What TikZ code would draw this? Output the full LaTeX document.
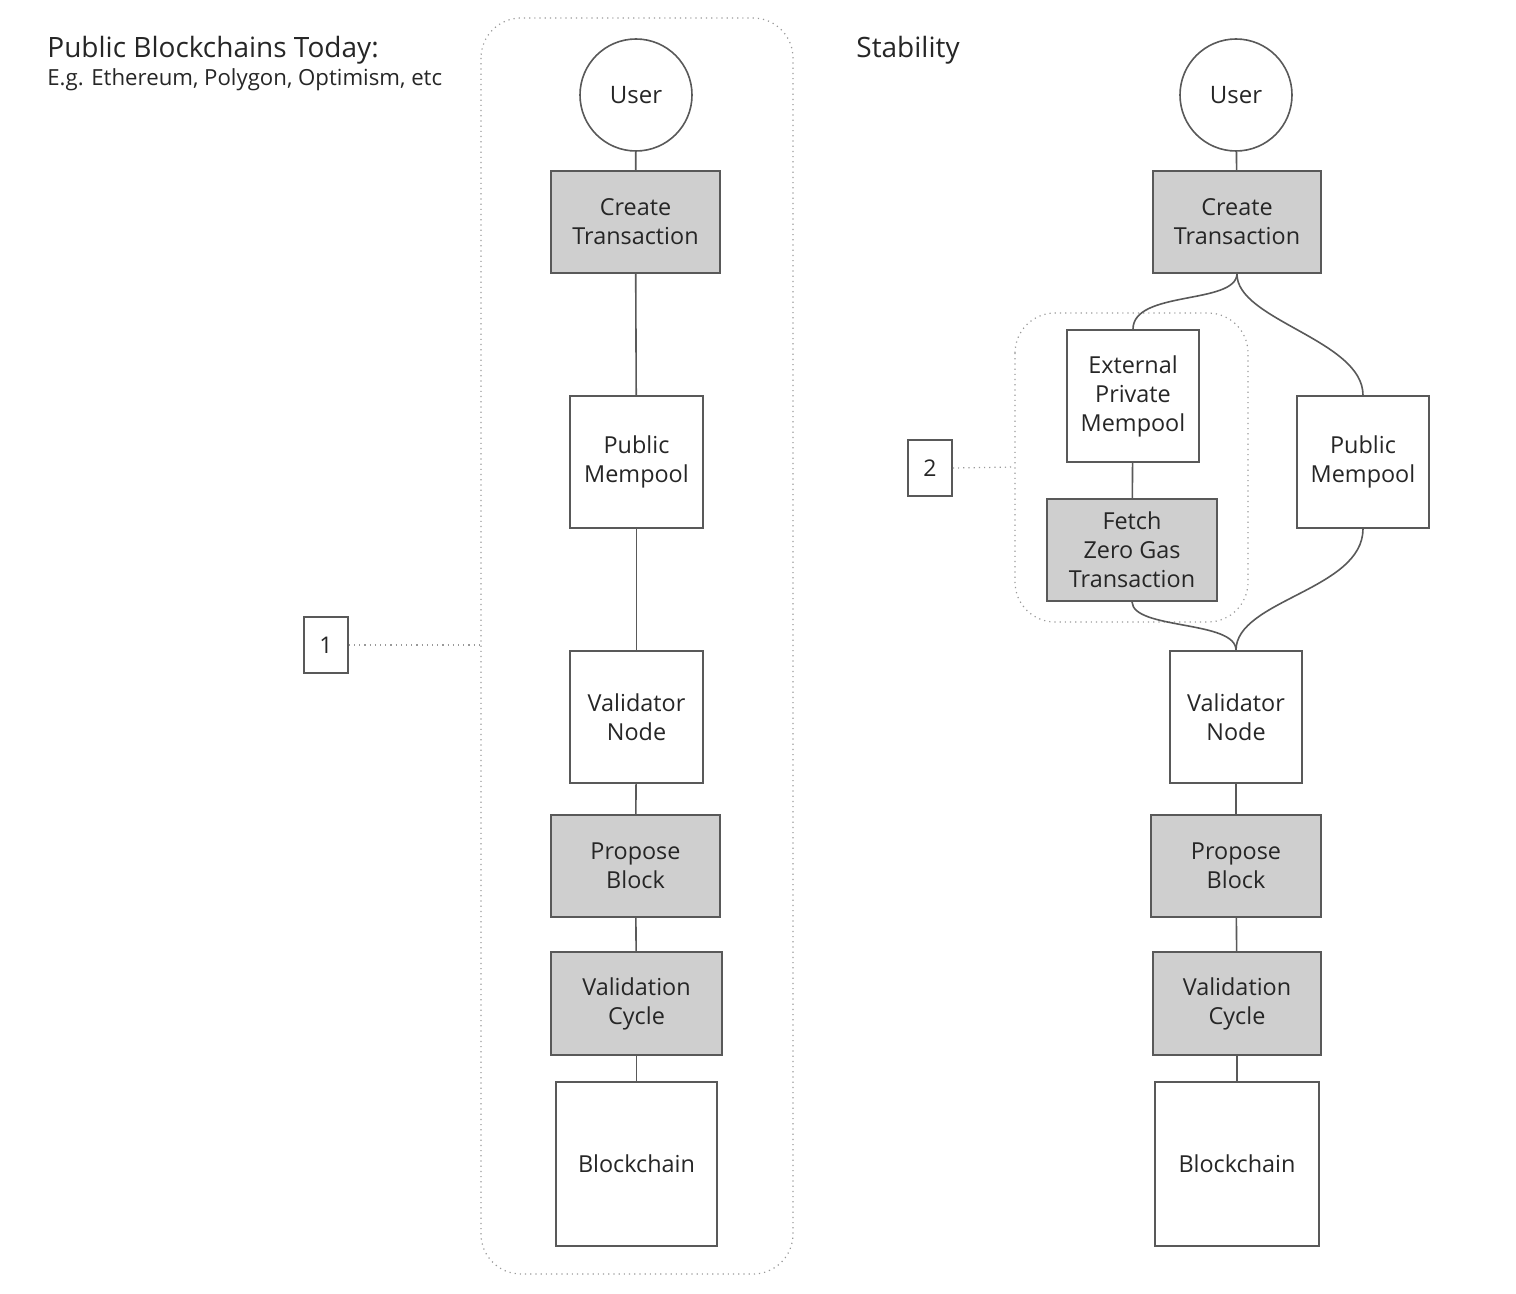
\documentclass[tikz,border=0pt]{standalone}
\usepackage{fontspec}
\setmainfont{Open Sans}
\begin{document}
\begin{tikzpicture}[x=0.5pt,y=-0.5pt,
  line/.style={draw=black!65,line width=0.8pt},
  wbox/.style={line,fill=white,inner sep=0pt,align=center,font=\fontsize{11.7}{14.5}\selectfont,text=black!85},
  gbox/.style={wbox,fill=black!19},
  ucircle/.style={line,circle,fill=white,inner sep=0pt,minimum size=56pt,font=\fontsize{12}{14}\selectfont,text=black!85},
  conn/.style={draw=black!65,line width=0.8pt},
  dotbox/.style={draw=black!40,line width=0.6pt,dotted,rounded corners=20pt},
  dotline/.style={draw=black!40,line width=0.6pt,dotted},
  lbl/.style={draw=black!65,line width=0.8pt,fill=white,inner sep=0pt,minimum width=22pt,minimum height=28pt,font=\fontsize{11.5}{14}\selectfont,text=black!85}
]
\useasboundingbox (0,0) rectangle (1516,1294);
% group outlines
\draw[dotbox] (481,18) rectangle (793,1274);
\draw[dotbox] (1015,313) rectangle (1248,622);
\coordinate (g1) at (481,645);
\coordinate (g2) at (1015,467);
% titles
\node[anchor=base west,inner sep=0pt,font=\fontsize{14}{16}\selectfont,text=black!85] (t1) at (47,58) {Public Blockchains Today:};
\node[anchor=base west,inner sep=0pt,font=\fontsize{11.1}{12}\selectfont,text=black!85] (t2) at (47,86) {E.g. Ethereum, Polygon, Optimism, etc};
\node[anchor=base west,inner sep=0pt,font=\fontsize{14}{16}\selectfont,text=black!85] (t3) at (856,58) {Stability};
% left column
\node[ucircle] (lu) at (636,95) {User};
\node[gbox,minimum width=84.5pt,minimum height=51pt] (lct) at (635.5,222) {Create\\Transaction};
\node[wbox,minimum width=66.5pt,minimum height=66pt] (lpm) at (636.5,462) {Public\\Mempool};
\node[wbox,minimum width=66.5pt,minimum height=66pt] (lvn) at (636.5,717) {Validator\\Node};
\node[gbox,minimum width=84.5pt,minimum height=51pt] (lpb) at (635.5,866) {Propose\\Block};
\node[gbox,minimum width=85.5pt,minimum height=51.5pt] (lvc) at (636.5,1003.5) {Validation\\Cycle};
\node[wbox,minimum width=80.5pt,minimum height=82pt] (lbc) at (636.5,1164) {Blockchain};
\draw[conn] (lu) -- (lct);
\draw[conn] (lct) -- (lpm);
\draw[conn] (lpm) -- (lvn);
\draw[conn] (lvn) -- (lpb);
\draw[conn] (lpb) -- (lvc);
\draw[conn] (lvc) -- (lbc);
% right column
\node[ucircle] (ru) at (1236,95) {User};
\node[gbox,minimum width=84pt,minimum height=51pt] (rct) at (1237,222) {Create\\Transaction};
\node[wbox,minimum width=66pt,minimum height=66pt] (rep) at (1133,396) {External\\Private\\Mempool};
\node[gbox,minimum width=85pt,minimum height=51pt] (rfz) at (1132,550) {Fetch\\Zero Gas\\Transaction};
\node[wbox,minimum width=66pt,minimum height=66pt] (rpm) at (1363,462) {Public\\Mempool};
\node[wbox,minimum width=66pt,minimum height=66pt] (rvn) at (1236,717) {Validator\\Node};
\node[gbox,minimum width=85pt,minimum height=51pt] (rpb) at (1236,866) {Propose\\Block};
\node[gbox,minimum width=84pt,minimum height=51.5pt] (rvc) at (1237,1003.5) {Validation\\Cycle};
\node[wbox,minimum width=82pt,minimum height=82pt] (rbc) at (1237,1164) {Blockchain};
\draw[conn] (ru) -- (rct);
\draw[conn] (rct.south) .. controls (1236,305) and (1133,290) .. (rep.north);
\draw[conn] (rct.south) .. controls (1236,320) and (1363,340) .. (rpm.north);
\draw[conn] (rep) -- (rfz);
\draw[conn] (rfz.south) .. controls (1133,630) and (1236,620) .. (rvn.north);
\draw[conn] (rpm.south) .. controls (1363,590) and (1236,600) .. (rvn.north);
\draw[conn] (rvn) -- (rpb);
\draw[conn] (rpb) -- (rvc);
\draw[conn] (rvc) -- (rbc);
% labels
\node[lbl] (n1) at (326,645) {1};
\node[lbl] (n2) at (930,468) {2};
\draw[dotline] (n1.east) -- (g1);
\draw[dotline] (n2.east) -- (g2);
\end{tikzpicture}
\end{document}
